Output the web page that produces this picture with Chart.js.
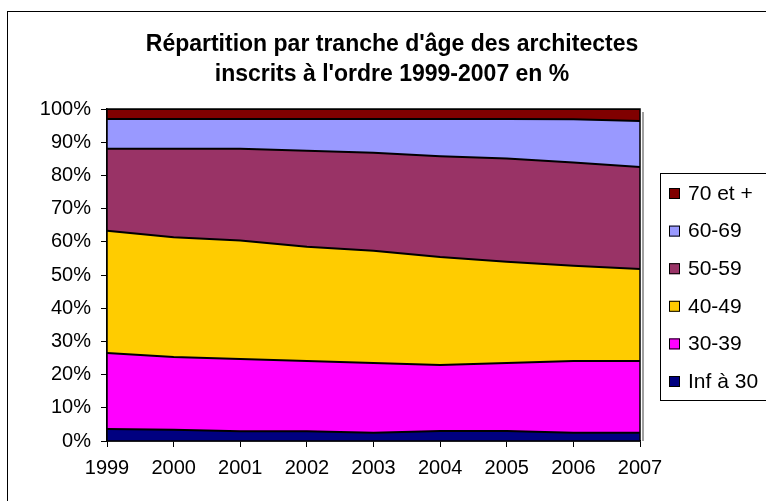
<!DOCTYPE html>
<html><head><meta charset="utf-8">
<script src="https://cdn.jsdelivr.net/npm/chart.js@4/dist/chart.umd.min.js"></script>
<style>html,body{margin:0;padding:0;background:#fff}</style>
</head><body>
<canvas id="c" width="766" height="501"></canvas>
<script>
const years = ['1999','2000','2001','2002','2003','2004','2005','2006','2007'];
const seriesLabels = ['Inf à 30','30-39','40-49','50-59','60-69','70 et +'];
const inf30 = [3.6,3.4,2.9,2.9,2.5,3.0,3.0,2.5,2.5];
const a3039 = [22.9,21.9,21.8,21.2,21.0,19.9,20.5,21.6,21.6];
const a4049 = [36.8,36.1,35.7,34.4,33.8,32.5,30.5,28.7,27.7];
const a5059 = [24.7,26.6,27.6,28.9,29.5,30.4,31.1,31.1,30.7];
const a6069 = [9.0,9.0,9.0,9.6,10.2,11.2,11.9,13.0,13.9];
const a70 = [3.0,3.0,3.0,3.0,3.0,3.0,3.0,3.1,3.6];
const colors = ['#000080','#FF00FF','#FFCC00','#993366','#9999FF','#800000'];
const titleLines = ["Répartition par tranche d'âge des architectes","inscrits à l'ordre 1999-2007 en %"];

Chart.defaults.font.family = '"Liberation Sans", Arial, sans-serif';
Chart.defaults.color = '#000';

const values = [inf30,a3039,a4049,a5059,a6069,a70];
const datasets = values.map((v,i)=>({
  label: seriesLabels[i],
  data: v,
  backgroundColor: colors[i],
  borderColor: '#000',
  borderWidth: 2,
  pointRadius: 0,
  tension: 0,
  fill: i===0 ? 'origin' : '-1'
}));

const framePlugin = {
  id: 'frame',
  beforeDraw(chart){
    const ctx = chart.ctx;
    ctx.save();
    ctx.strokeStyle = '#000'; ctx.lineWidth = 1;
    ctx.strokeRect(7.5, 11.5, 900, 700);
    ctx.restore();
  },
  afterDatasetsDraw(chart){
    const ctx = chart.ctx, a = chart.chartArea;
    ctx.save();
    ctx.strokeStyle = '#a0a0a0'; ctx.lineWidth = 2;
    ctx.beginPath(); ctx.moveTo(a.right+3, a.top+3); ctx.lineTo(a.right+3, a.bottom); ctx.stroke();
    ctx.strokeStyle = '#000'; ctx.lineWidth = 1.5;
    ctx.strokeRect(a.left, a.top, a.right-a.left, a.bottom-a.top);
    ctx.restore();
  },
  afterDraw(chart){
    const ctx = chart.ctx;
    ctx.save();
    ctx.strokeStyle = '#000'; ctx.lineWidth = 1;
    ctx.strokeRect(660.5, 173.5, 200, 227);
    const ds = chart.data.datasets;
    ctx.font = '21px "Liberation Sans", Arial, sans-serif';
    ctx.textBaseline = 'middle'; ctx.textAlign = 'left';
    for (let i=0;i<ds.length;i++){
      const d = ds[ds.length-1-i];
      const y = 193 + i*37.6;
      ctx.fillStyle = d.backgroundColor;
      ctx.fillRect(669, y-5, 11, 11);
      ctx.strokeStyle = '#000'; ctx.lineWidth = 1;
      ctx.strokeRect(669.5, y-5+0.5, 10, 10);
      ctx.fillStyle = '#000';
      ctx.fillText(d.label, 688, y+1);
    }
    ctx.restore();
  }
};

new Chart(document.getElementById('c'), {
  type: 'line',
  data: { labels: years, datasets },
  options: {
    responsive: false,
    animation: false,
    devicePixelRatio: 1,
    layout: { padding: { left: 18, right: 0, top: 0, bottom: 10 } },
    plugins: {
      legend: { display: false },
      tooltip: { enabled: false },
      title: {
        display: true,
        text: titleLines,
        color: '#000',
        font: { size: 23, weight: 'bold', lineHeight: '30px' },
        padding: { top: 30, bottom: 19 }
      }
    },
    scales: {
      x: {
        type: 'category',
        offset: false,
        grid: { drawOnChartArea: false, drawTicks: true, tickLength: 6, color: '#000' },
        border: { color: '#000', width: 1.5 },
        ticks: { color: '#000', font: { size: 20 }, padding: 9, autoSkip: false, maxRotation: 0 },
        afterFit(s){ s.height = 50; }
      },
      y: {
        stacked: true,
        min: 0, max: 100,
        grid: { drawOnChartArea: false, drawTicks: true, tickLength: 6, color: '#000' },
        border: { color: '#000', width: 1.5 },
        ticks: { stepSize: 10, color: '#000', font: { size: 20 }, padding: 10, callback: v => v + '%' },
        afterFit(s){ s.width = 89; }
      },
      yR: {
        position: 'right',
        display: true,
        grid: { display: false },
        border: { display: false },
        ticks: { display: false },
        afterFit(s){ s.width = 126; }
      }
    }
  },
  plugins: [framePlugin]
});
</script>
</body></html>
